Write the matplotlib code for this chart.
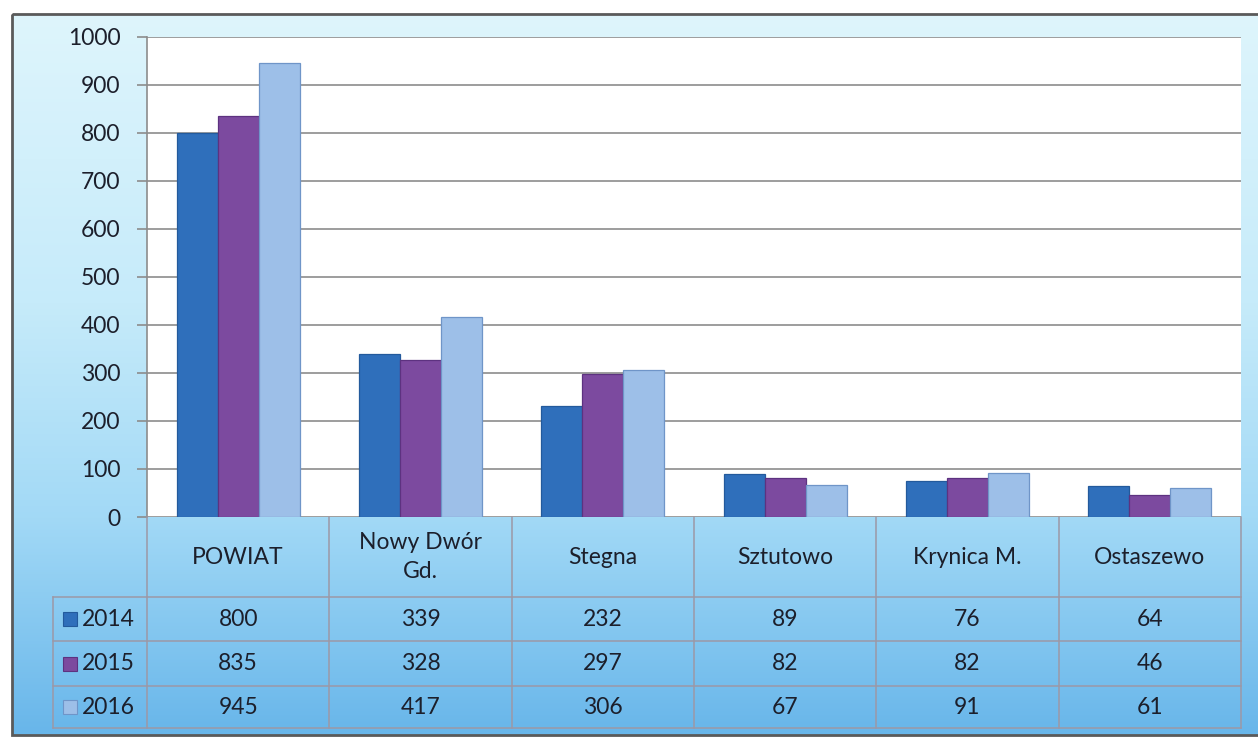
import numpy as np
import matplotlib
matplotlib.use("Agg")
import matplotlib.pyplot as plt
from matplotlib.patches import Rectangle
from matplotlib.colors import LinearSegmentedColormap
from matplotlib.transforms import blended_transform_factory

plt.rcParams['font.family'] = ['Lato', 'DejaVu Sans']

# ---------------- data ----------------
categories = ["POWIAT", "Nowy Dwór\nGd.", "Stegna", "Sztutowo", "Krynica M.", "Ostaszewo"]
years = ["2014", "2015", "2016"]
values_2014 = [800, 339, 232, 89, 76, 64]
values_2015 = [835, 328, 297, 82, 82, 46]
values_2016 = [945, 417, 306, 67, 91, 61]
y_ticks = [0, 100, 200, 300, 400, 500, 600, 700, 800, 900, 1000]

series = [values_2014, values_2015, values_2016]
colors = ["#2f6fbb", "#7c4a9f", "#9dbfe8"]
edges = ["#235a9c", "#5d3280", "#6f95c8"]
text_color = "#1c1f2b"
grid_color = "#8c8c8c"
FS = 16.5

W, H = 1258, 739
fig = plt.figure(figsize=(W / 100, H / 100), dpi=100)
fig.patch.set_facecolor("white")

# ---------------- background (pixel coordinates) ----------------
bg = fig.add_axes([0, 0, 1, 1], zorder=-10)
bg.set_xlim(0, W)
bg.set_ylim(H, 0)
bg.axis("off")
bg_cmap = LinearSegmentedColormap.from_list(
    "bg", [(0.0, "#def5fc"), (0.4, "#c6ebfa"), (0.7, "#a2d9f6"), (1.0, "#68b6ea")])
grad = np.linspace(0, 1, 256).reshape(-1, 1)
bg.imshow(grad, cmap=bg_cmap, extent=(12, W + 5, 735, 14), aspect="auto",
          interpolation="bilinear")
bg.add_patch(Rectangle((12, 14), W, 721, fill=False, edgecolor="#5a5a5a", lw=2.0))

# ---------------- main axes ----------------
left_px, right_px, top_px, bot_px = 147, 1241, 37, 517
ax = fig.add_axes([left_px / W, 1 - bot_px / H, (right_px - left_px) / W, (bot_px - top_px) / H])
ax.set_facecolor("white")

x = np.arange(len(categories))
bw = 0.225
offsets = [-bw, 0, bw]
for vals, off, c, ec in zip(series, offsets, colors, edges):
    ax.bar(x + off, vals, width=bw, color=c, edgecolor=ec, linewidth=0.9, zorder=3)

ax.set_xlim(-0.5, len(categories) - 0.5)
ax.set_ylim(0, 1000)
ax.set_yticks(y_ticks)
ax.set_yticklabels([str(t) for t in y_ticks], fontsize=FS, color=text_color)
ax.tick_params(axis="y", length=7, width=1.2, color=grid_color, pad=12)
ax.set_xticks([])
ax.yaxis.grid(True, color=grid_color, lw=1.2, zorder=0)
ax.set_axisbelow(True)
for s in ["top", "right", "bottom"]:
    ax.spines[s].set_visible(False)
ax.spines["left"].set_color(grid_color)
ax.spines["left"].set_linewidth(1.2)

# ---------------- data table ----------------
plot_w = right_px - left_px
plot_h = bot_px - top_px
def ay(px):
    return (bot_px - px) / plot_h

def axx(px):
    return (px - left_px) / plot_w

row_lines = [ay(597), ay(641), ay(686), ay(728)]
tr = blended_transform_factory(ax.transData, ax.transAxes)
tra = ax.transAxes
line_kw = dict(color="#9c98a6", lw=1.1, clip_on=False, zorder=5)

leg_left = axx(53)
for yl in row_lines:
    ax.plot([leg_left, 1], [yl, yl], transform=tra, **line_kw)
ax.plot([leg_left, leg_left], [row_lines[0], row_lines[-1]], transform=tra, **line_kw)
for i in range(len(categories) + 1):
    ax.plot([i - 0.5, i - 0.5], [0, row_lines[-1]], transform=tr, **line_kw)

# header labels
for i, cat in enumerate(categories):
    ax.text(i, row_lines[0] / 2, cat, transform=tr, ha="center", va="center",
            fontsize=FS, color=text_color, linespacing=1.5, clip_on=False)

# rows
for r, (yr, vals, c, ec) in enumerate(zip(years, series, colors, edges)):
    yc = (row_lines[r] + row_lines[r + 1]) / 2
    key_h = 14 / plot_h
    ax.add_patch(Rectangle((axx(63), yc - key_h / 2), 14 / plot_w, key_h, transform=tra,
                           facecolor=c, edgecolor=ec, lw=0.8, clip_on=False, zorder=6))
    ax.text(axx(82), yc, yr, transform=tra, ha="left",
            va="center", fontsize=FS, color=text_color, clip_on=False)
    for i, v in enumerate(vals):
        ax.text(i, yc, str(v), transform=tr, ha="center", va="center",
                fontsize=FS, color=text_color, clip_on=False)

fig.savefig("out.png", dpi=100)
